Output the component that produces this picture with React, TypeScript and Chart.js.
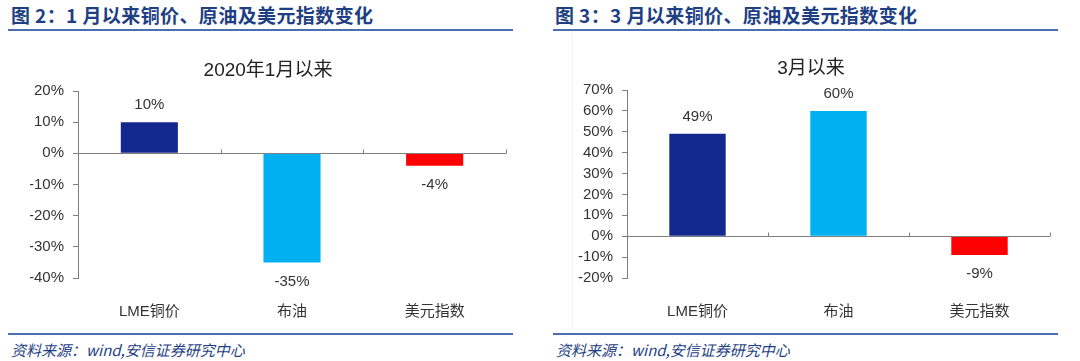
import React, { useEffect, useRef } from "react";
import { Chart, registerables } from "chart.js";

Chart.register(...registerables);

const categories = ["LME铜价", "布油", "美元指数"];
const sinceJanValues = [10, -35, -4];
const sinceMarValues = [49, 60, -9];
const barColors = ["#13288F", "#00B0F0", "#FF0000"];

const janTitle = "2020年1月以来";
const marTitle = "3月以来";
const janAxis = { min: -40, max: 20, step: 10 };
const marAxis = { min: -20, max: 70, step: 10 };

const panelTitles = ["图 2：1 月以来铜价、原油及美元指数变化", "图 3：3 月以来铜价、原油及美元指数变化"];
const sourceText = "资料来源：wind,安信证券研究中心";

const FONT = "'Liberation Sans', Arial, 'Noto Sans CJK SC', sans-serif";
const AXIS_COLOR = "#7f7f7f";
const TEXT_COLOR = "#333333";

const zeroLinePlugin = {
  id: "zeroLine",
  afterDatasetsDraw(chart: any) {
    const { ctx, scales } = chart;
    const x = scales.x;
    const y = scales.y;
    const y0 = Math.round(y.getPixelForValue(0)) + 0.5;
    ctx.save();
    ctx.strokeStyle = AXIS_COLOR;
    ctx.lineWidth = 1;
    ctx.beginPath();
    ctx.moveTo(chart.chartArea.left, y0);
    ctx.lineTo(chart.chartArea.right, y0);
    const n = chart.data.labels.length;
    for (let i = 1; i <= n; i++) {
      const bx = Math.round(i < n ? (x.getPixelForValue(i - 1) + x.getPixelForValue(i)) / 2 : chart.chartArea.right) + 0.5;
      ctx.moveTo(bx, y0);
      ctx.lineTo(bx, y0 - 4);
    }
    ctx.stroke();
    ctx.restore();
  },
};

const dataLabelPlugin = {
  id: "dataLabels",
  afterDatasetsDraw(chart: any) {
    const { ctx } = chart;
    const meta = chart.getDatasetMeta(0);
    const values = chart.data.datasets[0].data;
    ctx.save();
    ctx.font = `15px ${FONT}`;
    ctx.fillStyle = TEXT_COLOR;
    ctx.textAlign = "center";
    ctx.textBaseline = "middle";
    meta.data.forEach((bar: any, i: number) => {
      const v = values[i];
      const yy = v >= 0 ? bar.y - 17 : bar.y + 19;
      ctx.fillText(`${v}%`, bar.x, yy);
    });
    ctx.restore();
  },
};

function BarPanel(props: {
  values: number[];
  title: string;
  axis: { min: number; max: number; step: number };
  width: number;
  height: number;
  yWidth: number;
  padRight: number;
  titleTop: number;
  titleBottom: number;
}) {
  const ref = useRef<HTMLCanvasElement>(null);
  useEffect(() => {
    if (!ref.current) return;
    const chart = new Chart(ref.current, {
      type: "bar",
      data: {
        labels: categories,
        datasets: [
          {
            data: props.values,
            backgroundColor: barColors,
            borderWidth: 0,
            categoryPercentage: 1,
            barPercentage: 0.4,
          },
        ],
      },
      options: {
        responsive: false,
        animation: false,
        layout: { padding: { left: 0, right: props.padRight, top: 0, bottom: 0 } },
        plugins: {
          legend: { display: false },
          tooltip: { enabled: false },
          title: {
            display: true,
            text: props.title,
            color: "#222222",
            font: { size: 19, family: FONT, weight: "normal" },
            padding: { top: props.titleTop, bottom: props.titleBottom },
          },
        },
        scales: {
          x: {
            grid: { display: false },
            border: { display: false },
            ticks: { color: TEXT_COLOR, font: { size: 15, family: FONT }, padding: 17 },
            afterFit: (s: any) => {
              s.height = 42;
            },
          },
          y: {
            min: props.axis.min,
            max: props.axis.max,
            ticks: {
              stepSize: props.axis.step,
              autoSkip: false,
              color: TEXT_COLOR,
              font: { size: 15, family: FONT },
              padding: 9,
              callback: (v: any) => `${v}%`,
            },
            grid: { drawOnChartArea: false, drawTicks: true, tickLength: 5, tickColor: AXIS_COLOR },
            border: { display: true, color: AXIS_COLOR },
            afterFit: (s: any) => {
              s.width = props.yWidth;
            },
          },
        },
      },
      plugins: [zeroLinePlugin, dataLabelPlugin],
    });
    return () => chart.destroy();
  }, []);
  return <canvas ref={ref} width={props.width} height={props.height} style={{ display: "block" }} />;
}

const titleStyle: React.CSSProperties = {
  position: "absolute",
  top: 4,
  height: 22,
  lineHeight: "22px",
  fontFamily: "'Noto Sans CJK SC', sans-serif",
  fontWeight: 700,
  fontSize: 19,
  letterSpacing: "0.4px",
  color: "#1F3F84",
  whiteSpace: "nowrap",
};

const sourceStyle: React.CSSProperties = {
  position: "absolute",
  top: 340,
  height: 20,
  lineHeight: "20px",
  fontFamily: "'Noto Sans CJK SC', sans-serif",
  fontStyle: "italic",
  fontSize: 15,
  color: "#1F3F84",
  whiteSpace: "nowrap",
};

const lineStyle = (left: number, top: number, width: number): React.CSSProperties => ({
  position: "absolute",
  left,
  top,
  width,
  height: 2,
  background: "#4A6DB3",
});

export default function App() {
  return (
    <div style={{ position: "absolute", left: 0, top: 0, width: 1080, height: 361, background: "#ffffff", overflow: "hidden" }}>
      <div style={{ ...titleStyle, left: 11 }}>{panelTitles[0]}</div>
      <div style={{ ...titleStyle, left: 555 }}>{panelTitles[1]}</div>
      <div style={lineStyle(8, 29, 505)} />
      <div style={lineStyle(553, 29, 505)} />
      <div style={{ position: "absolute", left: 572, top: 35, width: 1, height: 295, background: "#f2f2f2" }} />
      <div style={{ position: "absolute", left: 30, top: 40 }}>
        <BarPanel values={sinceJanValues} title={janTitle} axis={janAxis} width={480} height={280} yWidth={48} padRight={4} titleTop={19} titleBottom={9.2} />
      </div>
      <div style={{ position: "absolute", left: 572, top: 40 }}>
        <BarPanel values={sinceMarValues} title={marTitle} axis={marAxis} width={486} height={280} yWidth={55} padRight={8} titleTop={17.6} titleBottom={9.6} />
      </div>
      <div style={lineStyle(8, 333, 505)} />
      <div style={lineStyle(553, 333, 505)} />
      <div style={{ ...sourceStyle, left: 11 }}>{sourceText}</div>
      <div style={{ ...sourceStyle, left: 556 }}>{sourceText}</div>
    </div>
  );
}
